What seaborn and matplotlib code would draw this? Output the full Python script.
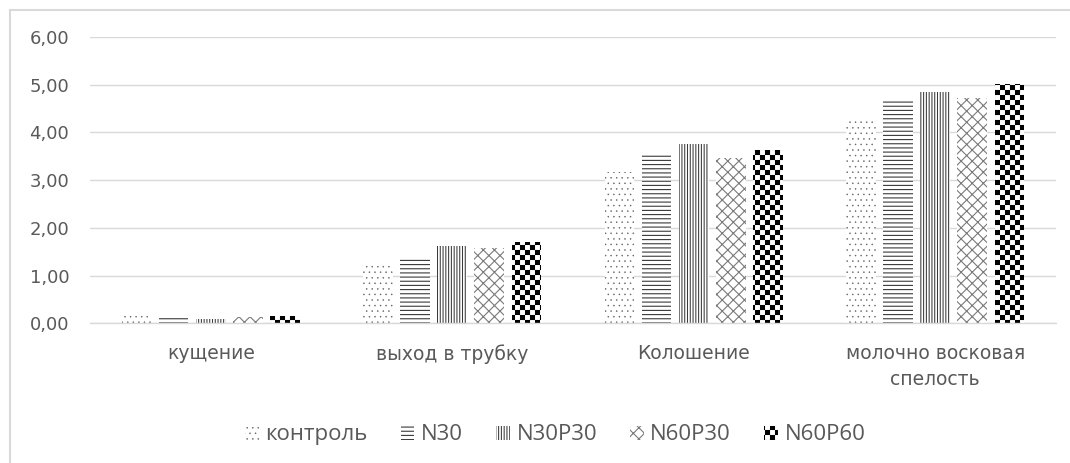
import numpy as np
import pandas as pd
import matplotlib
matplotlib.use("Agg")
import matplotlib.pyplot as plt
import matplotlib.hatch as mhatch
from matplotlib.path import Path
from matplotlib.patches import Rectangle
from matplotlib.ticker import FuncFormatter
import seaborn as sns

# ---- data -------------------------------------------------------------
phases = ["кущение", "выход в трубку", "Колошение", "молочно восковая\nспелость"]
treatments = ["контроль", "N30", "N30P30", "N60P30", "N60P60"]

kontrol = [0.15, 1.27, 3.17, 4.26]
n30     = [0.14, 1.37, 3.57, 4.66]
n30p30  = [0.10, 1.63, 3.76, 4.84]
n60p30  = [0.13, 1.57, 3.47, 4.72]
n60p60  = [0.16, 1.70, 3.63, 5.01]

yticks = [0, 1, 2, 3, 4, 5, 6]

series = [kontrol, n30, n30p30, n60p30, n60p60]
df = pd.DataFrame({
    "phase": np.repeat([phases], len(treatments), axis=0).ravel(),
    "treatment": np.repeat(treatments, len(phases)),
    "value": np.concatenate(series),
})


# ---- checkerboard fill pattern (registered on the 'O' hatch character) --
class CheckerHatch(mhatch.HatchPatternBase):
    def __init__(self, hatch, density):
        self.n = int(hatch.count("O")) * 20
        self.num_vertices = (self.n * self.n // 2) * 5 if self.n else 0

    def set_vertices_and_codes(self, vertices, codes):
        step = 1.0 / self.n
        sq = np.array([[0, 0], [1, 0], [1, 1], [0, 1], [0, 0]], float) * step
        sq_codes = [Path.MOVETO, Path.LINETO, Path.LINETO, Path.LINETO, Path.CLOSEPOLY]
        k = 0
        for r in range(self.n):
            for c in range(self.n):
                if (r + c) % 2 == 0:
                    vertices[k:k + 5] = sq + [c * step, r * step]
                    codes[k:k + 5] = sq_codes
                    k += 5


mhatch._hatch_types = [CheckerHatch if t is mhatch.LargeCircles else t
                       for t in mhatch._hatch_types]

styles = {
    "контроль": dict(hatch="...", color="#5e5e5e", lw=0.3),
    "N30":      dict(hatch="----", color="#3a3a3a", lw=0.8),
    "N30P30":   dict(hatch="||||||", color="#3a3a3a", lw=0.75),
    "N60P30":   dict(hatch="xxx", color="#7a7a7a", lw=0.8),
    "N60P60":   dict(hatch="O", color="#000000", lw=0.05),
}


def apply_style(patch, st):
    patch.set_facecolor("white")
    patch.set_edgecolor(st["color"])
    patch.set_linewidth(0)
    patch.set_hatch(st["hatch"])
    if hasattr(patch, "set_hatch_linewidth"):
        patch.set_hatch_linewidth(st["lw"])
    else:
        patch._hatch_linewidth = st["lw"]


# ---- figure -----------------------------------------------------------
sns.set_theme(style="white")
plt.rcParams["font.family"] = ["DejaVu Sans"]
TXT = "#595959"

fig = plt.figure(figsize=(10.70, 4.63), dpi=100)
ax = fig.add_axes([0.0841, 0.3017, 0.9028, 0.6184])

sns.barplot(data=df, x="phase", y="value", hue="treatment",
            order=phases, hue_order=treatments,
            palette=["white"] * len(treatments), saturation=1,
            width=0.768, gap=0.2, linewidth=0, errorbar=None,
            legend=False, ax=ax)

for cont, name in zip(ax.containers, treatments):
    for p in cont.patches:
        apply_style(p, styles[name])

ax.set_ylim(0, 6)
ax.set_yticks(yticks)
ax.yaxis.set_major_formatter(FuncFormatter(lambda v, _: f"{v:.2f}".replace(".", ",")))
ax.grid(axis="y", color="#d9d9d9", linewidth=1.0)
ax.set_axisbelow(True)
for s in ["left", "right", "top"]:
    ax.spines[s].set_visible(False)
ax.spines["bottom"].set_color("#d9d9d9")
ax.spines["bottom"].set_linewidth(1.0)
ax.set_xlabel("")
ax.set_ylabel("")
ax.tick_params(axis="y", length=0, pad=15, labelsize=13, labelcolor=TXT)
ax.tick_params(axis="x", length=0, pad=15, labelsize=13.5, labelcolor=TXT)
for lbl in ax.get_xticklabels():
    lbl.set_linespacing(1.45)

# legend with the same fills
handles = [Rectangle((0, 0), 1, 1) for _ in treatments]
for h, name in zip(handles, treatments):
    apply_style(h, styles[name])
leg = fig.legend(handles, treatments, loc="center", bbox_to_anchor=(0.519, 0.0605),
                 ncol=5, frameon=False, handlelength=0.6, handleheight=0.6,
                 handletextpad=0.3, columnspacing=1.5,
                 prop={"family": ["Open Sans", "DejaVu Sans"], "size": 16})
for t in leg.get_texts():
    t.set_color(TXT)
for h, name in zip(leg.legend_handles, treatments):
    apply_style(h, styles[name])

# outer chart frame
fig.patches.append(Rectangle((9.5 / 1070, -0.1), 1.2, 1.1 - 10.5 / 463,
                             transform=fig.transFigure, fill=False,
                             edgecolor="#d9d9d9", linewidth=1.5))

fig.savefig("out.png", dpi=100, facecolor="white")
